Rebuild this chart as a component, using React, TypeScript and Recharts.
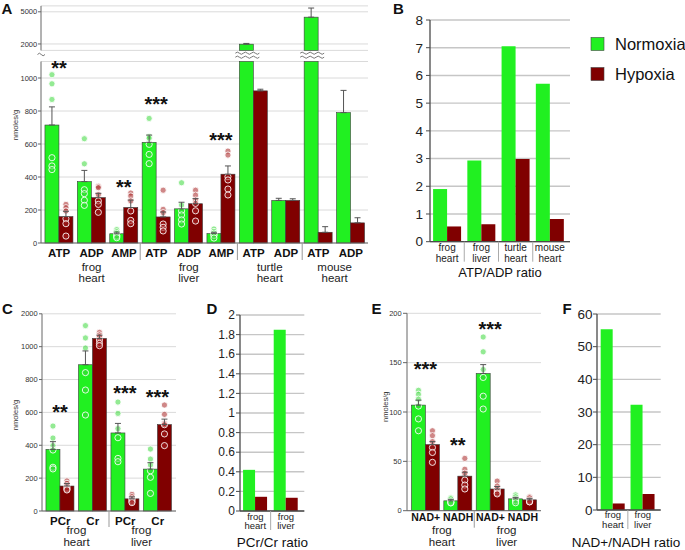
import React from "react";
import { Bar, BarChart, CartesianGrid, ErrorBar, XAxis, YAxis } from "recharts";

const GREEN = "#21f021";
const MAROON = "#800000";
const DOT_GREEN = "#3ad83a";
const DOT_RED = "#a82424";
const FONT = "'Liberation Sans', Arial, Helvetica, sans-serif";

const seriesNames = ["Normoxia", "Hypoxia"];
const seriesColors = [GREEN, MAROON];

// ---- A: adenylates, nmoles/g (axis broken between 1100 and 1400) ----
const catsA = ["ATP", "ADP", "AMP", "ATP", "ADP", "AMP", "ATP", "ADP", "ATP", "ADP"];
const groupsA = [
  { lines: ["frog", "heart"], from: 0, to: 2 },
  { lines: ["frog", "liver"], from: 3, to: 5 },
  { lines: ["turtle", "heart"], from: 6, to: 7 },
  { lines: ["mouse", "heart"], from: 8, to: 9 },
];
const normA = [715, 372, 56, 610, 207, 57, 1980, 258, 4500, 790];
const normErrA = [110, 68, 10, 44, 40, 8, 70, 13, 850, 135];
const hypoA = [160, 275, 215, 158, 238, 417, 922, 258, 65, 122];
const hypoErrA = [32, 26, 45, 30, 31, 50, 10, 10, 34, 31];
const normDotsA = [
  [1020, 965, 870, 517, 467, 445],
  [632, 480, 323, 299, 259, 228],
  [81, 68, 58, 45, 40, 32],
  [755, 645, 635, 598, 537, 481],
  [365, 230, 195, 170, 140, 115],
  [85, 70, 60, 50, 45, 30],
  [], [], [], [],
];
const hypoDotsA = [
  [234, 214, 194, 147, 117, 42],
  [343, 335, 293, 255, 234, 186],
  [303, 285, 255, 194, 137, 117],
  [320, 204, 184, 115, 95, 73],
  [320, 290, 260, 240, 195, 133],
  [557, 533, 402, 382, 327, 291],
  [], [], [], [],
];
const starsA = ["**", "", "**", "***", "", "***", "", "", "", ""];
const starAtA = [1021, 0, 300, 803, 0, 579, 0, 0, 0, 0];
const ticksA = [0, 200, 400, 600, 800, 1000];
const ticksAUpper = [2000, 5000];

// ---- B: ATP/ADP ratio ----
const catsB = ["frog heart", "frog liver", "turtle heart", "mouse heart"];
const normB = [1.9, 2.93, 7.05, 5.7];
const hypoB = [0.55, 0.63, 2.98, 0.82];
const ticksB = [0, 1, 2, 3, 4, 5, 6, 7, 8];

// ---- C: phosphocreatine / creatine, nmoles/g ----
const catsC = ["PCr", "Cr", "PCr", "Cr"];
const groupsC = [
  { lines: ["frog", "heart"], from: 0, to: 1 },
  { lines: ["frog", "liver"], from: 2, to: 3 },
];
const normC = [375, 890, 475, 255];
const normErrC = [47, 84, 58, 39];
const hypoC = [152, 1050, 74, 526];
const hypoErrC = [15, 20, 12, 33];
const normDotsC = [
  [517, 444, 398, 371, 266, 256],
  [1128, 1053, 992, 842, 736, 584],
  [663, 594, 501, 446, 320, 300],
  [377, 316, 280, 245, 205, 107],
];
const hypoDotsC = [
  [183, 168, 154, 142, 134, 128],
  [1087, 1071, 1060, 1041, 1020, 1006],
  [101, 87, 75, 67, 58, 51],
  [645, 588, 533, 525, 469, 398],
];
const starsC = ["**", "", "***", "***"];
const starAtC = [559, 0, 673, 650];
// the top gridline sits where 1200 would be, but the reference labels it 2000
const ticksC = [0, 200, 400, 600, 800, 1000, 1200];
const tickLabelsC = ["0", "200", "400", "600", "800", "1000", "2000"];

// ---- D: PCr/Cr ratio ----
const catsD = ["frog heart", "frog liver"];
const normD = [0.42, 1.85];
const hypoD = [0.145, 0.135];
const ticksD = [0, 0.2, 0.4, 0.6, 0.8, 1, 1.2, 1.4, 1.6, 1.8, 2];

// ---- E: NAD+ / NADH, nmoles/g ----
const catsE = ["NAD+", "NADH", "NAD+", "NADH"];
const groupsE = [
  { lines: ["frog", "heart"], from: 0, to: 1 },
  { lines: ["frog", "liver"], from: 2, to: 3 },
];
const normE = [107, 10, 139, 12];
const normErrE = [5, 1.5, 9, 1.5];
const hypoE = [67, 35, 22, 11];
const hypoErrE = [3, 4, 2.5, 1.5];
const normDotsE = [
  [122, 118, 113, 106, 93, 81],
  [13, 12, 10, 9, 8, 8],
  [176, 161, 143, 135, 116, 103],
  [16, 14, 12, 11, 10, 8],
];
const hypoDotsE = [
  [81, 76, 70, 64, 59, 49],
  [53, 42, 38, 31, 26, 22],
  [30, 25, 22, 20, 18, 17],
  [14, 13, 11, 10, 9, 9],
];
const starsE = ["***", "**", "***", ""];
const starAtE = [136, 59, 177, 0];
const ticksE = [0, 50, 100, 150, 200];

// ---- F: NAD+/NADH ratio ----
const catsF = ["frog heart", "frog liver"];
const normF = [55.3, 32.2];
const hypoF = [2.0, 4.9];
const ticksF = [0, 10, 20, 30, 40, 50, 60];

type Group = { lines: string[]; from: number; to: number };
type Box = { left: number; top: number; width: number; height: number };
type Plot = { x0: number; x1: number; y0: number; y1: number; padL: number; padR: number };

type Row = {
  id: string;
  n: number | null;
  h: number | null;
  nE: number[] | null;
  hE: number[] | null;
  nDots: number[];
  hDots: number[];
  stars: string;
  starAt: number;
};

type DotSet = {
  cats: string[];
  norm: number[];
  normErr: number[];
  hypo: number[];
  hypoErr: number[];
  normDots: number[][];
  hypoDots: number[][];
  stars: string[];
  starAt: number[];
};

// rows for one axis segment [lo, hi]: bars are cut at the segment edges
function buildRows(s: DotSet, lo: number, hi: number): Row[] {
  const fit = (v: number) => (v <= lo ? null : Math.min(v, hi));
  const err = (v: number, e: number) => (v > lo && v + e <= hi ? [0, e] : null);
  return s.cats.map((c, i) => ({
    id: `${i}-${c}`,
    n: fit(s.norm[i]),
    h: fit(s.hypo[i]),
    nE: err(s.norm[i], s.normErr[i]),
    hE: err(s.hypo[i], s.hypoErr[i]),
    nDots: s.normDots[i],
    hDots: s.hypoDots[i],
    stars: s.stars[i],
    starAt: s.starAt[i],
  }));
}

function wave(x0: number, x1: number, y: number) {
  let d = `M${x0},${y}`;
  for (let x = x0; x < x1 - 0.5; x += 8) d += " q2,-2.2 4,0 t4,0";
  return d;
}

function barWithDots(key: "n" | "h", lo: number, hi: number, breakBelow: boolean) {
  const isN = key === "n";
  return (p: any) => {
    const row = p.payload as Row;
    const v = row[key];
    if (v == null || !(p.height > 0)) return <g />;
    const base = p.y + p.height;
    const ppu = p.height / (v - lo);
    const yOf = (d: number) => base - (d - lo) * ppu;
    const cx = p.x + p.width / 2;
    const dots = (isN ? row.nDots : row.hDots).filter((d) => d > lo && d <= hi);
    return (
      <g>
        <rect
          x={p.x}
          y={p.y}
          width={p.width}
          height={p.height}
          fill={isN ? GREEN : MAROON}
          stroke="#3c3c3c"
          strokeWidth={0.6}
        />
        {dots.map((d, j) => (
          <circle
            key={j}
            cx={cx}
            cy={yOf(d)}
            r={3.1}
            fill={isN ? DOT_GREEN : DOT_RED}
            fillOpacity={0.55}
            stroke="#ffffff"
            strokeOpacity={0.85}
            strokeWidth={1}
          />
        ))}
        {isN && row.stars && row.starAt > lo && row.starAt <= hi && (
          <text
            x={p.x + p.width}
            y={yOf(row.starAt)}
            textAnchor="middle"
            fontSize={20}
            fontWeight="bold"
            fill="#111"
          >
            {row.stars}
          </text>
        )}
        {breakBelow && (
          <g fill="none" stroke="#777" strokeWidth={1}>
            <path d={wave(p.x - 4, p.x + p.width + 4, base + 2.8)} />
            <path d={wave(p.x - 4, p.x + p.width + 4, base + 6.8)} />
          </g>
        )}
      </g>
    );
  };
}

function groupTick(
  labels: string[],
  groups: Group[],
  fallbackHalf: number,
  cfg: { size: number; cat: number; l1: number; l2: number; sep: number }
) {
  return (p: any) => {
    const i: number = p.payload.index;
    const half: number = p.payload.offset || fallbackHalf;
    const g = groups.find((gr) => gr.from === i);
    const gx = g ? p.x + (g.to - g.from) * half : 0;
    return (
      <g>
        <text x={p.x} y={p.y + cfg.cat} textAnchor="middle" fontSize={cfg.size} fontWeight="bold" fill="#111">
          {labels[i]}
        </text>
        {g && (
          <text textAnchor="middle" fontSize={11.5} fill="#222">
            <tspan x={gx} y={p.y + cfg.l1}>{g.lines[0]}</tspan>
            <tspan x={gx} y={p.y + cfg.l2}>{g.lines[1]}</tspan>
          </text>
        )}
        {g && i > 0 && (
          <line x1={p.x - half} x2={p.x - half} y1={p.y} y2={p.y + cfg.sep} stroke="#999" strokeWidth={1} />
        )}
      </g>
    );
  };
}

function twoLineTick(fallbackHalf: number, cfg: { size: number; l1: number; l2: number; sep: number }) {
  return (p: any) => {
    const [a, b] = String(p.payload.value).split(" ");
    const i: number = p.payload.index;
    const half: number = p.payload.offset || fallbackHalf;
    return (
      <g>
        <text textAnchor="middle" fontSize={cfg.size} fill="#222">
          <tspan x={p.x} y={p.y + cfg.l1}>{a}</tspan>
          <tspan x={p.x} y={p.y + cfg.l2}>{b}</tspan>
        </text>
        {i > 0 && (
          <line x1={p.x - half} x2={p.x - half} y1={p.y} y2={p.y + cfg.sep} stroke="#aaa" strokeWidth={1} />
        )}
      </g>
    );
  };
}

function DotBarChart(props: {
  rows: Row[];
  box: Box;
  plot: Plot;
  domain: [number, number];
  ticks: number[];
  tickLabels?: string[];
  tickSize: number;
  tickMargin: number;
  xTick?: (p: any) => React.ReactElement;
  breakBelow?: boolean;
}) {
  const { rows, box, plot, domain, ticks, tickLabels, xTick } = props;
  const xAxisHeight = box.top + box.height - plot.y1;
  const margin = {
    top: plot.y0 - box.top,
    right: box.left + box.width - plot.x1,
    bottom: xTick ? 0 : xAxisHeight,
    left: 0,
  };
  const [lo, hi] = domain;
  return (
    <div style={{ position: "absolute", left: box.left, top: box.top }}>
      <BarChart width={box.width} height={box.height} data={rows} margin={margin} barCategoryGap="6%" barGap={0}>
        <CartesianGrid vertical={false} stroke="#dadada" />
        <XAxis
          dataKey="id"
          hide={!xTick}
          height={xAxisHeight}
          padding={{ left: plot.padL, right: plot.padR }}
          interval={0}
          tick={xTick}
          tickLine={false}
          tickSize={0}
          tickMargin={0}
          axisLine={{ stroke: "#666" }}
        />
        <YAxis
          type="number"
          domain={domain}
          ticks={ticks}
          interval={0}
          width={plot.x0 - box.left}
          tickSize={props.tickSize}
          tickMargin={props.tickMargin}
          tickFormatter={tickLabels ? (v: number, i: number) => tickLabels[i] : undefined}
          axisLine={{ stroke: "#666" }}
          tickLine={{ stroke: "#666" }}
          tick={{ fontSize: 7.5, fill: "#333" }}
        />
        <Bar dataKey="n" fill={GREEN} isAnimationActive={false} shape={barWithDots("n", lo, hi, !!props.breakBelow)}>
          <ErrorBar dataKey="nE" width={3} stroke="#555" strokeWidth={1} direction="y" />
        </Bar>
        <Bar dataKey="h" fill={MAROON} isAnimationActive={false} shape={barWithDots("h", lo, hi, !!props.breakBelow)}>
          <ErrorBar dataKey="hE" width={3} stroke="#555" strokeWidth={1} direction="y" />
        </Bar>
      </BarChart>
    </div>
  );
}

function RatioChart(props: {
  cats: string[];
  norm: number[];
  hypo: number[];
  box: Box;
  plot: Plot;
  ticks: number[];
  tickFont: number;
  tickMargin: number;
  gap: string;
  label: { size: number; l1: number; l2: number; sep: number };
}) {
  const { cats, norm, hypo, box, plot, ticks } = props;
  const rows = cats.map((c, i) => ({ id: c, n: norm[i], h: hypo[i] }));
  const half = (plot.x1 - plot.x0 - plot.padL - plot.padR) / cats.length / 2;
  return (
    <div style={{ position: "absolute", left: box.left, top: box.top }}>
      <BarChart
        width={box.width}
        height={box.height}
        data={rows}
        barCategoryGap={props.gap}
        barGap={0}
        margin={{ top: plot.y0 - box.top, right: box.left + box.width - plot.x1, bottom: 0, left: 0 }}
      >
        <CartesianGrid vertical={false} stroke="#c6c6c6" strokeWidth={1.4} />
        <XAxis
          dataKey="id"
          height={box.top + box.height - plot.y1}
          padding={{ left: plot.padL, right: plot.padR }}
          interval={0}
          tickLine={false}
          tickSize={0}
          tickMargin={0}
          axisLine={{ stroke: "#4a4a4a", strokeWidth: 1.3 }}
          tick={twoLineTick(half, props.label)}
        />
        <YAxis
          type="number"
          domain={[ticks[0], ticks[ticks.length - 1]]}
          ticks={ticks}
          interval={0}
          width={plot.x0 - box.left}
          tickSize={4}
          tickMargin={props.tickMargin}
          axisLine={{ stroke: "#4a4a4a", strokeWidth: 1.3 }}
          tickLine={{ stroke: "#4a4a4a" }}
          tick={{ fontSize: props.tickFont, fill: "#222" }}
        />
        <Bar dataKey="n" fill={GREEN} isAnimationActive={false} />
        <Bar dataKey="h" fill={MAROON} isAnimationActive={false} />
      </BarChart>
    </div>
  );
}

function Overlay() {
  const letter = (t: string, x: number, y: number) => (
    <text x={x} y={y} fontSize={15} fontWeight="bold" fill="#111">
      {t}
    </text>
  );
  const yLabel = (x: number, y: number) => (
    <text transform={`rotate(-90 ${x} ${y})`} x={x} y={y} textAnchor="middle" fontSize={7.5} fill="#333">
      nmoles/g
    </text>
  );
  return (
    <svg width={685} height={550} style={{ position: "absolute", left: 0, top: 0, pointerEvents: "none" }}>
      {letter("A", 1.5, 13.5)}
      {letter("B", 393, 13.5)}
      {letter("C", 2, 314)}
      {letter("D", 206.5, 313.5)}
      {letter("E", 371.5, 313.5)}
      {letter("F", 562.5, 313.5)}
      {yLabel(17.6, 125)}
      {yLabel(17.6, 415)}
      {yLabel(387.6, 406.7)}
      <path d="M37.5,54.5 q1.9,-2.6 3.75,0 t3.75,0" fill="none" stroke="#777" strokeWidth={1} />
      <text x={500} y={277} textAnchor="middle" fontSize={13} fill="#111">
        ATP/ADP ratio
      </text>
      <text x={272.5} y={547} textAnchor="middle" fontSize={13.5} fill="#111">
        PCr/Cr ratio
      </text>
      <text x={626} y={546.5} textAnchor="middle" fontSize={13.5} fill="#111">
        NAD+/NADH ratio
      </text>
      {seriesNames.map((name, i) => (
        <g key={name}>
          <rect x={591} y={37.5 + i * 30} width={13} height={13} fill={seriesColors[i]} stroke="#444" strokeWidth={0.6} />
          <text x={615} y={49.5 + i * 30} fontSize={16.5} fill="#111">
            {name}
          </text>
        </g>
      ))}
    </svg>
  );
}

export default function App() {
  const setA: DotSet = {
    cats: catsA, norm: normA, normErr: normErrA, hypo: hypoA, hypoErr: hypoErrA,
    normDots: normDotsA, hypoDots: hypoDotsA, stars: starsA, starAt: starAtA,
  };
  const setC: DotSet = {
    cats: catsC, norm: normC, normErr: normErrC, hypo: hypoC, hypoErr: hypoErrC,
    normDots: normDotsC, hypoDots: hypoDotsC, stars: starsC, starAt: starAtC,
  };
  const setE: DotSet = {
    cats: catsE, norm: normE, normErr: normErrE, hypo: hypoE, hypoErr: hypoErrE,
    normDots: normDotsE, hypoDots: hypoDotsE, stars: starsE, starAt: starAtE,
  };

  const boxA = { left: 0, top: 0, width: 372, height: 290 };
  const plotA = { x0: 41, x1: 368, y0: 61.5, y1: 243, padL: 2, padR: 1 };
  const plotAUpper = { ...plotA, y0: 5.9, y1: 50.4 };
  const boxC = { left: 0, top: 290, width: 180, height: 260 };
  const plotC = { x0: 42, x1: 176, y0: 313.8, y1: 511, padL: 2, padR: 2 };
  const boxE = { left: 360, top: 290, width: 185, height: 260 };
  const plotE = { x0: 407, x1: 541, y0: 313.3, y1: 510.7, padL: 2.5, padR: 2 };

  const half = (p: Plot, n: number) => (p.x1 - p.x0 - p.padL - p.padR) / n / 2;

  return (
    <div
      style={{
        position: "absolute",
        left: 0,
        top: 0,
        width: 685,
        height: 550,
        background: "#fff",
        fontFamily: FONT,
      }}
    >
      <DotBarChart
        rows={buildRows(setA, 1400, 5550)}
        box={boxA}
        plot={plotAUpper}
        domain={[1400, 5550]}
        ticks={ticksAUpper}
        tickSize={3}
        tickMargin={0.8}
        breakBelow
      />
      <DotBarChart
        rows={buildRows(setA, 0, 1100)}
        box={boxA}
        plot={plotA}
        domain={[0, 1100]}
        ticks={ticksA}
        tickSize={3}
        tickMargin={0.8}
        xTick={groupTick(catsA, groupsA, half(plotA, catsA.length), { size: 11.5, cat: 14, l1: 27.5, l2: 38.5, sep: 17 })}
      />
      <RatioChart
        cats={catsB}
        norm={normB}
        hypo={hypoB}
        box={{ left: 395, top: 0, width: 180, height: 290 }}
        plot={{ x0: 430, x1: 570, y0: 20, y1: 241.7, padL: 0, padR: 3 }}
        ticks={ticksB}
        tickFont={13.5}
        tickMargin={3}
        gap="9%"
        label={{ size: 10, l1: 9.3, l2: 19.8, sep: 20 }}
      />
      <DotBarChart
        rows={buildRows(setC, 0, 1200)}
        box={boxC}
        plot={plotC}
        domain={[0, 1200]}
        ticks={ticksC}
        tickLabels={tickLabelsC}
        tickSize={3}
        tickMargin={1.3}
        xTick={groupTick(catsC, groupsC, half(plotC, catsC.length), { size: 11.5, cat: 14, l1: 23, l2: 34.7, sep: 16 })}
      />
      <RatioChart
        cats={catsD}
        norm={normD}
        hypo={hypoD}
        box={{ left: 190, top: 290, width: 120, height: 260 }}
        plot={{ x0: 240, x1: 304.3, y0: 315, y1: 511, padL: 0, padR: 3 }}
        ticks={ticksD}
        tickFont={12}
        tickMargin={1}
        gap="10%"
        label={{ size: 9.5, l1: 8.5, l2: 18, sep: 19 }}
      />
      <DotBarChart
        rows={buildRows(setE, 0, 200)}
        box={boxE}
        plot={plotE}
        domain={[0, 200]}
        ticks={ticksE}
        tickSize={4}
        tickMargin={1.3}
        xTick={groupTick(catsE, groupsE, half(plotE, catsE.length), { size: 10.5, cat: 10, l1: 23.3, l2: 35.3, sep: 17 })}
      />
      <RatioChart
        cats={catsF}
        norm={normF}
        hypo={hypoF}
        box={{ left: 548, top: 290, width: 137, height: 260 }}
        plot={{ x0: 597, x1: 660.7, y0: 314, y1: 510, padL: 1, padR: 3 }}
        ticks={ticksF}
        tickFont={13.5}
        tickMargin={0.5}
        gap="9%"
        label={{ size: 9.5, l1: 8, l2: 18, sep: 19 }}
      />
      <Overlay />
    </div>
  );
}
